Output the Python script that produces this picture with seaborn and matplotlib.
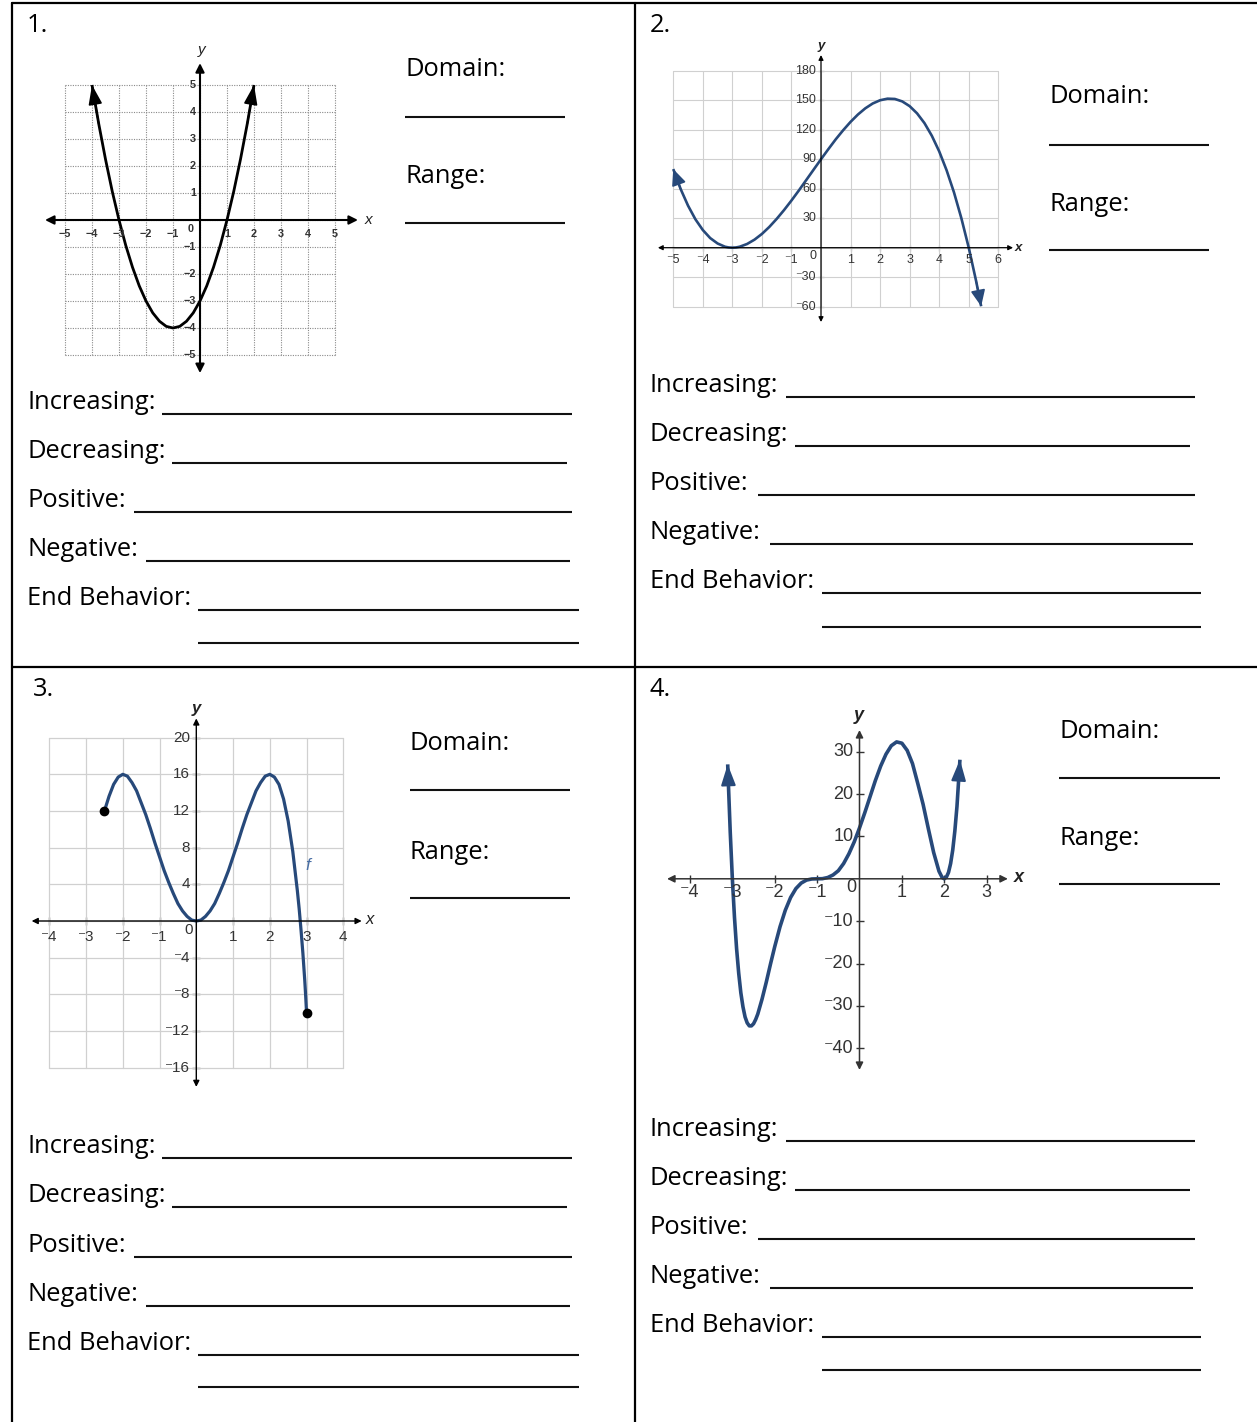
import numpy as np
import pandas as pd
import matplotlib
matplotlib.use('Agg')
import matplotlib.pyplot as plt
import seaborn as sns

sns.set_theme(style='white')
plt.rcParams['font.family'] = ['Open Sans', 'DejaVu Sans']

# ---------------- data ----------------
g1_x = [-4, -3.75, -3.5, -3.25, -3, -2.75, -2.5, -2.25, -2, -1.75, -1.5, -1.25, -1,
        -0.75, -0.5, -0.25, 0, 0.25, 0.5, 0.75, 1, 1.25, 1.5, 1.75, 2]
g1_y = [5, 3.56, 2.25, 1.06, 0, -0.94, -1.75, -2.44, -3, -3.44, -3.75, -3.94, -4,
        -3.94, -3.75, -3.44, -3, -2.44, -1.75, -0.94, 0, 1.06, 2.25, 3.56, 5]

g2_x = [-5, -4.75, -4.5, -4.25, -4, -3.75, -3.5, -3.25, -3.125, -3, -2.875, -2.75, -2.5,
        -2.25, -2, -1.75, -1.5, -1.25, -1, -0.75, -0.5, -0.25, 0, 0.25, 0.5, 0.75, 1,
        1.25, 1.5, 1.75, 2, 2.25, 2.5, 2.75, 3, 3.25, 3.5, 3.75, 4, 4.25, 4.5, 4.75, 5,
        5.25, 5.42]
g2_y = [80, 59.7, 42.8, 28.9, 18, 9.8, 4.3, 1.0, 0.25, 0, 0.25, 1.0, 3.8,
        8.2, 14, 21.1, 29.3, 38.3, 48, 58.2, 68.8, 79.4, 90, 100.3, 110.3, 119.5, 128,
        135.5, 141.8, 146.7, 150, 151.6, 151.3, 148.8, 144, 136.7, 126.8, 113.9, 98,
        78.8, 56.3, 30, 0, -34, -59.6]

g3_x = [-2.5, -2.375, -2.25, -2.125, -2, -1.875, -1.75, -1.625, -1.5, -1.375, -1.25,
        -1.125, -1, -0.875, -0.75, -0.625, -0.5, -0.375, -0.25, -0.125, 0, 0.125, 0.25,
        0.375, 0.5, 0.625, 0.75, 0.875, 1, 1.125, 1.25, 1.375, 1.5, 1.625, 1.75, 1.875,
        2, 2.125, 2.25, 2.375, 2.5, 2.625, 2.75, 2.8, 2.85, 2.9, 2.95, 2.975, 3]
g3_y = [12, 13.6, 14.9, 15.7, 16, 15.8, 15.1, 14.2, 12.9, 11.6, 10.1,
        8.5, 7, 5.5, 4.2, 3.0, 1.9, 1.1, 0.5, 0.1, 0, 0.1, 0.5,
        1.1, 1.9, 3.0, 4.2, 5.5, 7, 8.5, 10.1, 11.6, 12.9, 14.2, 15.1, 15.8,
        16, 15.7, 14.9, 13.3, 10.9, 7.6, 3.3, 1.3, -1.0, -3.5, -6.4, -8.1, -10]

g4_x = [-3.11, -3.1, -3.05, -3, -2.95, -2.9, -2.85, -2.8, -2.75, -2.7, -2.65, -2.6,
        -2.55, -2.5, -2.45, -2.4, -2.3, -2.2, -2.1, -2, -1.875, -1.75, -1.625, -1.5,
        -1.375, -1.25, -1.125, -1, -0.875, -0.75, -0.625, -0.5, -0.375, -0.25, -0.125,
        0, 0.125, 0.25, 0.375, 0.5, 0.625, 0.75, 0.875, 1, 1.125, 1.25, 1.375, 1.5,
        1.625, 1.75, 1.875, 1.95, 2, 2.05, 2.1, 2.15, 2.2, 2.25, 2.3, 2.37]
g4_y = [27, 24.1, 11, 0, -9.1, -16.5, -22.3, -26.9, -30.2, -32.6, -34.0, -34.7,
        -34.7, -34.2, -33.2, -31.9, -28.4, -24.4, -20.1, -16, -11.3, -7.4, -4.4, -2.3,
        -1.0, -0.3, -0.04, 0, 0.03, 0.3, 0.9, 1.9, 3.6, 5.9, 8.7,
        12, 15.6, 19.4, 23.2, 26.6, 29.4, 31.4, 32.3, 32, 30.3, 27.2, 22.5, 17.6,
        11.8, 6.2, 1.8, 0.3, 0, 0.4, 1.5, 3.6, 6.8, 11.3, 17.1, 28.1]

g1_xticks = [-5, -4, -3, -2, -1, 1, 2, 3, 4, 5]
g1_yticks = [-5, -4, -3, -2, -1, 1, 2, 3, 4, 5]
g2_xticks = [-5, -4, -3, -2, -1, 1, 2, 3, 4, 5, 6]
g2_yticks = [-60, -30, 30, 60, 90, 120, 150, 180]
g3_xticks = [-4, -3, -2, -1, 1, 2, 3, 4]
g3_yticks = [-16, -12, -8, -4, 4, 8, 12, 16, 20]
g4_xticks = [-4, -3, -2, -1, 1, 2, 3]
g4_yticks = [-40, -30, -20, -10, 10, 20, 30]

g1_grid = list(range(-5, 6))
g2_xgrid = list(range(-5, 7))
g2_ygrid = list(range(-60, 181, 30))
g3_xgrid = list(range(-4, 5))
g3_ygrid = list(range(-16, 21, 4))

prompts = ["Increasing:", "Decreasing:", "Positive:", "Negative:", "End Behavior:"]

# ---------------- figure ----------------
W, H = 1257, 1422
fig = plt.figure(figsize=(W / 100, H / 100), dpi=100)
bg = fig.add_axes([0, 0, 1, 1])
bg.set_xlim(0, W)
bg.set_ylim(H, 0)
bg.axis('off')

# table borders
BL = 1.6
bg.plot([12, W], [3, 3], color='black', lw=BL)
bg.plot([12, 12], [3, H], color='black', lw=BL)
bg.plot([635, 635], [3, H], color='black', lw=BL)
bg.plot([12, W], [667, 667], color='black', lw=BL)

FS = 18.4
ULW = 1.5


def uline(x0, x1, y):
    bg.plot([x0, x1], [y, y], color='#111111', lw=ULW, solid_capstyle='butt')


def panel_text(num, nx, ny, tx, base, step, ux0s, ux1s, second_y, dx, dom_y, dom_line,
               rng_y, rng_line, dx1):
    bg.text(nx, ny, num, fontsize=FS, va='baseline', ha='left', color='black')
    for i, p in enumerate(prompts):
        y = base + i * step
        bg.text(tx, y, p, fontsize=FS, va='baseline', ha='left', color='black')
        uline(ux0s[i], ux1s[i], y + 5)
    uline(ux0s[-1], ux1s[-1], second_y)
    bg.text(dx, dom_y, "Domain:", fontsize=FS, va='baseline', ha='left', color='black')
    uline(dx, dx1, dom_line)
    bg.text(dx, rng_y, "Range:", fontsize=FS, va='baseline', ha='left', color='black')
    uline(dx, dx1, rng_line)


L_x0 = [162, 172, 134, 146, 198]
L_x1 = [572, 567, 572, 570, 579]
R_x0 = [786, 795, 758, 770, 822]
R_x1 = [1195, 1190, 1195, 1193, 1201]

panel_text("1.", 27, 32, 27, 409, 49, L_x0, L_x1, 643, 405, 76, 117, 183, 223, 565)
panel_text("2.", 650, 32, 650, 392, 49, R_x0, R_x1, 627, 1049, 103, 145, 211, 250, 1209)
panel_text("3.", 33, 696, 27, 1153, 49.3, L_x0, L_x1, 1387, 410, 750, 790, 859, 898, 570)
panel_text("4.", 650, 696, 650, 1136, 49, R_x0, R_x1, 1370, 1059, 738, 778, 845, 884, 1220)


def graph_axes(pl, pr, pt, pb, x0px, ux, y0px, uy):
    rect = [pl / W, 1 - pb / H, (pr - pl) / W, (pb - pt) / H]
    ax = fig.add_axes(rect)
    ax.set_xlim((pl - x0px) / ux, (pr - x0px) / ux)
    ax.set_ylim((y0px - pb) / uy, (y0px - pt) / uy)
    ax.axis('off')
    return ax


def axis_arrows(ax, xr, yr, lw, ms, color='black'):
    props = dict(arrowstyle='<|-|>', color=color, lw=lw, mutation_scale=ms,
                 shrinkA=0, shrinkB=0)
    ax.annotate('', xy=(xr[1], 0), xytext=(xr[0], 0), arrowprops=props)
    ax.annotate('', xy=(0, yr[1]), xytext=(0, yr[0]), arrowprops=props)


def curve_arrow(ax, xs, ys, end, color, lw, ms, hw=0.4, hl=0.9):
    if end == 'last':
        xy, xyt = (xs[-1], ys[-1]), (xs[-2], ys[-2])
    else:
        xy, xyt = (xs[0], ys[0]), (xs[1], ys[1])
    ax.annotate('', xy=xy, xytext=xyt,
                arrowprops=dict(arrowstyle=f'-|>,head_width={hw},head_length={hl}',
                                color=color, lw=lw, mutation_scale=ms,
                                shrinkA=0, shrinkB=0))


def tick_labels(ax, xt, yt, xoff, yoff, fs, minus, weight='normal', color='#333333',
                fam='Liberation Sans'):
    def fmt(v):
        return (minus + str(abs(v))) if v < 0 else str(v)
    for t in xt:
        ax.annotate(fmt(t), xy=(t, 0), xytext=(0, xoff), textcoords='offset pixels',
                    ha='center', va='center', fontsize=fs, color=color,
                    fontweight=weight, family=[fam, 'DejaVu Sans'])
    for t in yt:
        ax.annotate(fmt(t), xy=(0, t), xytext=(yoff, 0), textcoords='offset pixels',
                    ha='right', va='center', fontsize=fs, color=color,
                    fontweight=weight, family=[fam, 'DejaVu Sans'])


BLUE = '#27497a'

# ---------------- graph 1 ----------------
ax1 = graph_axes(30, 380, 40, 380, 200, 27, 220, 27)
for g in g1_grid:
    ax1.plot([g, g], [-5, 5], ls=(0, (1, 1.2)), color='#8a8a8a', lw=0.8)
    ax1.plot([-5, 5], [g, g], ls=(0, (1, 1.2)), color='#8a8a8a', lw=0.8)
axis_arrows(ax1, (-5.74, 5.85), (-5.67, 5.81), 1.5, 13)
sns.lineplot(x=g1_x, y=g1_y, ax=ax1, color='black', lw=2.0, sort=False, estimator=None)
ax1.lines[-1].set_solid_capstyle('butt')
curve_arrow(ax1, g1_x, g1_y, 'last', 'black', 1.2, 12, hw=0.35, hl=1.0)
curve_arrow(ax1, g1_x, g1_y, 'first', 'black', 1.2, 12, hw=0.35, hl=1.0)
tick_labels(ax1, g1_xticks, g1_yticks, -14, -4, 7.8, '−', weight='bold')
ax1.annotate('0', xy=(0, 0), xytext=(-9, -9), textcoords='offset pixels', ha='center',
             va='center', fontsize=7.8, fontweight='bold', color='#333333',
             family=['Liberation Sans'])
bg.text(368, 220, 'x', fontsize=11, style='italic', ha='center', va='center',
        family=['Liberation Sans'], color='#222222')
bg.text(201.5, 50, 'y', fontsize=11, style='italic', ha='center', va='center',
        family=['Liberation Sans'], color='#222222')

# ---------------- graph 2 ----------------
ax2 = graph_axes(650, 1030, 40, 330, 821, 29.55, 247.7, 0.983)
for g in g2_xgrid:
    ax2.plot([g, g], [-60, 180], color='#d0d0d0', lw=0.8)
for g in g2_ygrid:
    ax2.plot([-5, 6], [g, g], color='#d0d0d0', lw=0.8)
axis_arrows(ax2, (-5.52, 6.5), (-75.6, 196), 0.9, 7)
ax2.scatter(g2_xticks, [0] * len(g2_xticks), marker='|', s=18, color='black', lw=0.8)
ax2.scatter([0] * len(g2_yticks), g2_yticks, marker='_', s=18, color='black', lw=0.8)
sns.lineplot(x=g2_x, y=g2_y, ax=ax2, color=BLUE, lw=1.9, sort=False, estimator=None)
ax2.lines[-1].set_solid_capstyle('butt')
curve_arrow(ax2, g2_x, g2_y, 'last', BLUE, 1.2, 11)
curve_arrow(ax2, g2_x, g2_y, 'first', BLUE, 1.2, 11)
tick_labels(ax2, g2_xticks, g2_yticks, -12, -5, 9, '⁻')
ax2.annotate('0', xy=(0, 0), xytext=(-8, -8), textcoords='offset pixels', ha='center',
             va='center', fontsize=9, color='#333333', family=['Liberation Sans'])
bg.text(1018, 248, 'x', fontsize=9.5, style='italic', fontweight='bold', ha='center',
        va='center', family=['Liberation Sans'], color='#222222')
bg.text(821, 46, 'y', fontsize=9.5, style='italic', fontweight='bold', ha='center',
        va='center', family=['Liberation Sans'], color='#222222')

# ---------------- graph 3 ----------------
ax3 = graph_axes(25, 385, 700, 1095, 196.3, 36.75, 921, 9.167)
for g in g3_xgrid:
    ax3.plot([g, g], [-16, 20], color='#d0d0d0', lw=0.9)
for g in g3_ygrid:
    ax3.plot([-4, 4], [g, g], color='#d0d0d0', lw=0.9)
axis_arrows(ax3, (-4.48, 4.5), (-18.1, 22.1), 1.0, 9)
ax3.scatter(g3_xticks, [0] * len(g3_xticks), marker='|', s=28, color='black', lw=0.9)
ax3.scatter([0] * len(g3_yticks), g3_yticks, marker='_', s=28, color='black', lw=0.9)
sns.lineplot(x=g3_x, y=g3_y, ax=ax3, color=BLUE, lw=2.3, sort=False, estimator=None)
ax3.scatter([g3_x[0], g3_x[-1]], [g3_y[0], g3_y[-1]], s=36, color='black', zorder=5)
tick_labels(ax3, g3_xticks, g3_yticks, -16, -6, 11, '⁻')
ax3.annotate('0', xy=(0, 0), xytext=(-8, -9), textcoords='offset pixels', ha='center',
             va='center', fontsize=11, color='#333333', family=['Liberation Sans'])
ax3.text(3.04, 6.1, 'f', fontsize=12.5, style='italic', color='#4a6fa5', ha='center',
         va='center', family=['Liberation Sans'])
bg.text(370, 920, 'x', fontsize=12, style='italic', ha='center', va='center',
        family=['Liberation Sans'], color='#222222')
bg.text(196, 709, 'y', fontsize=12, style='italic', fontweight='bold', ha='center',
        va='center', family=['Liberation Sans'], color='#222222')

# ---------------- graph 4 ----------------
ax4 = graph_axes(660, 1040, 700, 1080, 859.5, 42.38, 878.8, 4.238)
axis_arrows(ax4, (-4.54, 3.5), (-45.1, 35.1), 1.1, 11, color='#333333')
ax4.scatter(g4_xticks, [0] * len(g4_xticks), marker='|', s=40, color='#333333', lw=1.0)
ax4.scatter([0] * len(g4_yticks), g4_yticks, marker='_', s=40, color='#333333', lw=1.0)
sns.lineplot(x=g4_x, y=g4_y, ax=ax4, color=BLUE, lw=2.6, sort=False, estimator=None)
ax4.lines[-1].set_solid_capstyle('butt')
curve_arrow(ax4, g4_x, g4_y, 'last', BLUE, 1.4, 13, hw=0.35, hl=1.0)
curve_arrow(ax4, g4_x, g4_y, 'first', BLUE, 1.4, 13, hw=0.35, hl=1.0)
tick_labels(ax4, g4_xticks, g4_yticks, -14, -6, 13, '⁻')
ax4.annotate('0', xy=(0, 0), xytext=(-8, -9), textcoords='offset pixels', ha='center',
             va='center', fontsize=13, color='#333333', family=['Liberation Sans'])
bg.text(1019, 878, 'x', fontsize=13, style='italic', fontweight='bold', ha='center',
        va='center', family=['Liberation Sans'], color='#222222')
bg.text(859, 716, 'y', fontsize=13, style='italic', fontweight='bold', ha='center',
        va='center', family=['Liberation Sans'], color='#222222')

fig.savefig('out.png', dpi=100, facecolor='white')
